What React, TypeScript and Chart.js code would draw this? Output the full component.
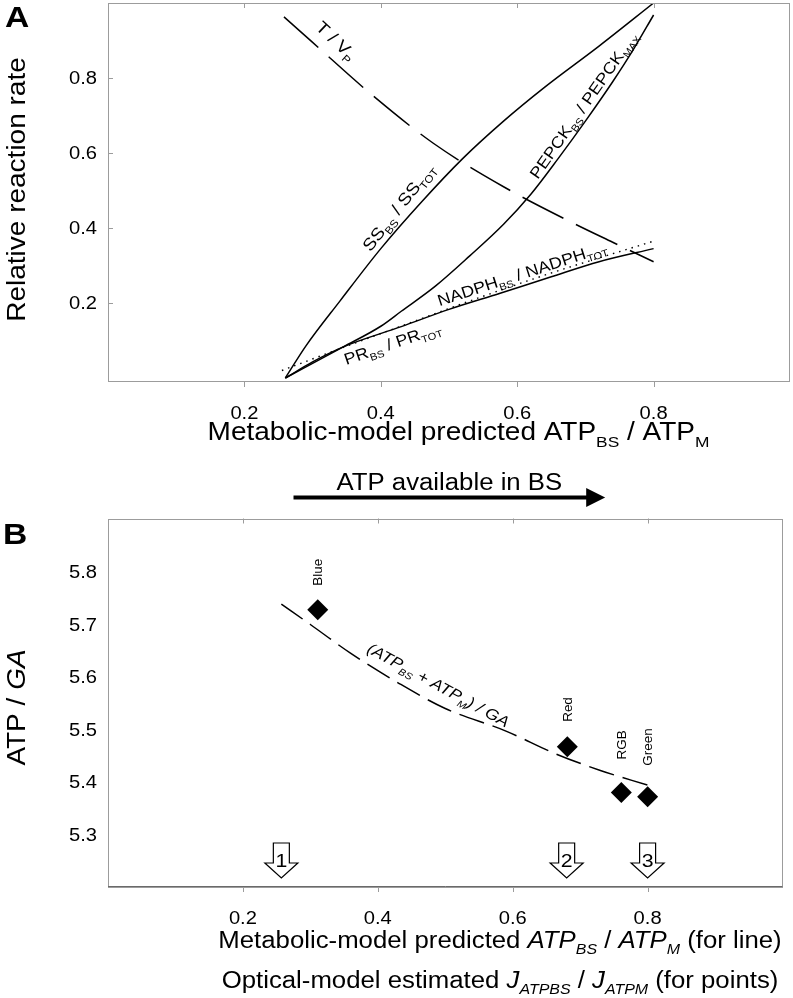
import React, { useEffect, useRef } from 'react';
import { Chart, registerables } from 'chart.js';
Chart.register(...registerables);

// ---------------- data ----------------
const X_TICKS = [0.2, 0.4, 0.6, 0.8];
const A_Y_TICKS = [0.2, 0.4, 0.6, 0.8];
const B_Y_TICKS = [5.3, 5.4, 5.5, 5.6, 5.7, 5.8];

// Panel A curves
const SS_X = [0.26, 0.29, 0.34, 0.40, 0.46, 0.52, 0.58, 0.64, 0.72, 0.80];
const SS_Y = [0.0, 0.085, 0.205, 0.345, 0.47, 0.585, 0.685, 0.775, 0.885, 1.0];

const PEPCK_X = [0.26, 0.345, 0.40, 0.43, 0.48, 0.53, 0.58, 0.62, 0.66, 0.70, 0.74, 0.77, 0.80];
const PEPCK_Y = [0.0, 0.083, 0.138, 0.178, 0.245, 0.325, 0.41, 0.49, 0.585, 0.685, 0.79, 0.875, 0.968];

const PR_X = [0.26, 0.30, 0.345, 0.43, 0.50, 0.575, 0.65, 0.72, 0.80];
const PR_Y = [0.0, 0.043, 0.083, 0.137, 0.183, 0.226, 0.27, 0.31, 0.345];

const NADPH_X = [0.255, 0.35, 0.45, 0.55, 0.65, 0.80];
const NADPH_Y = [0.02, 0.085, 0.152, 0.218, 0.28, 0.365];

const TVP_X = [0.258, 0.30, 0.387, 0.477, 0.58, 0.682, 0.74, 0.80];
const TVP_Y = [0.963, 0.895, 0.755, 0.626, 0.51, 0.413, 0.362, 0.31];

// Panel B
const LINE_B_X = [0.257, 0.30, 0.36, 0.43, 0.50, 0.59, 0.663, 0.73, 0.80];
const LINE_B_Y = [5.739, 5.70, 5.645, 5.589, 5.54, 5.497, 5.454, 5.422, 5.394];

const POINT_NAMES = ['Blue', 'Red', 'RGB', 'Green'];
const POINT_X = [0.311, 0.681, 0.761, 0.80];
const POINT_Y = [5.728, 5.467, 5.38, 5.372];

const ARROW_X = [0.257, 0.68, 0.80];
const ARROW_NUMS = ['1', '2', '3'];

// "ATP available in BS" arrow (x extent, data units)
const ATP_ARROW_X = [0.272, 0.729];

// ---------------- styles ----------------
const FONT = '"Liberation Sans", Arial, Helvetica, sans-serif';
const SX = 1.12;
const SUB = 0.62;
const BOX = '#9c9c9c';
const POINT_LABEL_GAP = [24, 25, 33, 31];

type Seg = { t: string; s?: boolean; i?: boolean };
type RichOpts = { angle?: number; align?: 'left' | 'center' | 'right'; bold?: boolean; vcenter?: boolean };

function rich(ctx: CanvasRenderingContext2D, segs: Seg[], x: number, y: number, size: number, o: RichOpts = {}) {
  ctx.save();
  ctx.translate(x, y);
  if (o.angle) ctx.rotate(o.angle);
  ctx.scale(SX, 1);
  const fonts = segs.map(
    (sg) => `${sg.i ? 'italic ' : ''}${o.bold ? 'bold ' : ''}${sg.s ? size * SUB : size}px ${FONT}`
  );
  const widths = segs.map((sg, k) => {
    ctx.font = fonts[k];
    return ctx.measureText(sg.t).width;
  });
  const total = widths.reduce((a, b) => a + b, 0);
  const align = o.align || 'center';
  let cx = align === 'center' ? -total / 2 : align === 'right' ? -total : 0;
  const by = o.vcenter ? size * 0.36 : 0;
  ctx.textBaseline = 'alphabetic';
  ctx.textAlign = 'left';
  ctx.fillStyle = '#000';
  segs.forEach((sg, k) => {
    ctx.font = fonts[k];
    ctx.fillText(sg.t, cx, by + (sg.s ? size * 0.26 : 0));
    cx += widths[k];
  });
  ctx.restore();
}

const deg = (d: number) => (d * Math.PI) / 180;

const A_LABELS: { segs: Seg[]; x: number; y: number; angle: number; size: number }[] = [
  { segs: [{ t: 'T / V' }, { t: 'P', s: true }], x: 0.335, y: 0.9, angle: 43, size: 17 },
  { segs: [{ t: 'SS' }, { t: 'BS', s: true }, { t: ' / SS' }, { t: 'TOT', s: true }], x: 0.4256, y: 0.456, angle: -52, size: 17 },
  { segs: [{ t: 'PEPCK' }, { t: 'BS', s: true }, { t: ' / PEPCK' }, { t: 'MAX', s: true }], x: 0.697, y: 0.728, angle: -55, size: 16 },
  { segs: [{ t: 'NADPH' }, { t: 'BS', s: true }, { t: ' / NADPH' }, { t: 'TOT', s: true }], x: 0.607, y: 0.279, angle: -18, size: 16 },
  { segs: [{ t: 'PR' }, { t: 'BS', s: true }, { t: ' / PR' }, { t: 'TOT', s: true }], x: 0.417, y: 0.093, angle: -19, size: 16 },
];

const B_LINE_LABEL = {
  segs: [
    { t: '(ATP', i: true }, { t: 'BS', s: true, i: true }, { t: ' + ATP', i: true }, { t: 'M', s: true, i: true }, { t: ') / GA', i: true },
  ] as Seg[],
  x: 0.49, y: 5.585, angle: 28.5, size: 15.5,
};

const pts = (xs: number[], ys: number[]) => xs.map((x, i) => ({ x, y: ys[i] }));

function lineDs(xs: number[], ys: number[], dash: number[] = [], width = 1.5) {
  return {
    data: pts(xs, ys),
    showLine: true,
    borderColor: '#000',
    backgroundColor: '#000',
    borderWidth: width,
    borderDash: dash,
    pointRadius: 0,
    pointHoverRadius: 0,
    fill: false,
    cubicInterpolationMode: 'monotone' as const,
  };
}

function drawBox(ctx: CanvasRenderingContext2D, ca: any) {
  ctx.save();
  ctx.strokeStyle = BOX;
  ctx.lineWidth = 1;
  ctx.strokeRect(Math.round(ca.left) + 0.5, Math.round(ca.top) + 0.5, Math.round(ca.right - ca.left) - 1, Math.round(ca.bottom - ca.top) - 1);
  ctx.restore();
}

function drawXTicks(ctx: CanvasRenderingContext2D, chart: any) {
  const ca = chart.chartArea;
  const xs = chart.scales.x;
  ctx.save();
  ctx.strokeStyle = BOX;
  ctx.lineWidth = 1;
  X_TICKS.forEach((v) => {
    const px = Math.round(xs.getPixelForValue(v)) + 0.5;
    ctx.beginPath();
    ctx.moveTo(px, ca.top);
    ctx.lineTo(px, ca.top + 5);
    ctx.moveTo(px, ca.bottom);
    ctx.lineTo(px, ca.bottom + 5);
    ctx.stroke();
    rich(ctx, [{ t: v.toFixed(1) }], xs.getPixelForValue(v), ca.bottom + 36.5, 18);
  });
  ctx.restore();
}

function drawYTicks(ctx: CanvasRenderingContext2D, chart: any, ticks: number[], marks: boolean) {
  const ca = chart.chartArea;
  const ys = chart.scales.y;
  ctx.save();
  ctx.strokeStyle = BOX;
  ctx.lineWidth = 1;
  ticks.forEach((v) => {
    const py = ys.getPixelForValue(v);
    if (marks) {
      ctx.beginPath();
      ctx.moveTo(ca.left, Math.round(py) + 0.5);
      ctx.lineTo(ca.left + 5, Math.round(py) + 0.5);
      ctx.stroke();
    }
    rich(ctx, [{ t: v.toFixed(1) }], ca.left - 11, py + 6.5, 18, { align: 'right' });
  });
  ctx.restore();
}

const plugA = {
  id: 'decorA',
  afterDraw(chart: any) {
    const ctx: CanvasRenderingContext2D = chart.ctx;
    const ca = chart.chartArea;
    const xs = chart.scales.x;
    const ys = chart.scales.y;
    drawBox(ctx, ca);
    drawXTicks(ctx, chart);
    drawYTicks(ctx, chart, A_Y_TICKS, true);
    // curve labels
    A_LABELS.forEach((l) => {
      rich(ctx, l.segs, xs.getPixelForValue(l.x), ys.getPixelForValue(l.y), l.size, { angle: deg(l.angle), vcenter: true });
    });
    // axis titles
    rich(ctx, [{ t: 'Metabolic-model predicted ATP' }, { t: 'BS', s: true }, { t: ' / ATP' }, { t: 'M', s: true }], ca.left + 350.5, ca.bottom + 58, 25);
    rich(ctx, [{ t: 'Relative reaction rate' }], 25, ca.top + 186.5, 25, { angle: -Math.PI / 2 });
    // panel letter
    rich(ctx, [{ t: 'A' }], 5, 27, 30, { align: 'left', bold: true });
    // ATP available arrow
    const x0 = xs.getPixelForValue(ATP_ARROW_X[0]);
    const x1 = xs.getPixelForValue(ATP_ARROW_X[1]);
    const ay = ca.bottom + 115.5;
    rich(ctx, [{ t: 'ATP available in BS' }], (x0 + x1) / 2, ca.bottom + 108, 23);
    ctx.save();
    ctx.fillStyle = '#000';
    ctx.fillRect(x0, ay - 2, x1 - 18 - x0, 4);
    ctx.beginPath();
    ctx.moveTo(x1 - 19, ay - 9.5);
    ctx.lineTo(x1, ay);
    ctx.lineTo(x1 - 19, ay + 9.5);
    ctx.closePath();
    ctx.fill();
    ctx.restore();
  },
};

const plugB = {
  id: 'decorB',
  afterDraw(chart: any) {
    const ctx: CanvasRenderingContext2D = chart.ctx;
    const ca = chart.chartArea;
    const xs = chart.scales.x;
    const ys = chart.scales.y;
    drawBox(ctx, ca);
    // darker bottom axis
    ctx.save();
    ctx.strokeStyle = '#6a6a6a';
    ctx.beginPath();
    ctx.moveTo(ca.left, Math.round(ca.bottom) - 0.5);
    ctx.lineTo(ca.right, Math.round(ca.bottom) - 0.5);
    ctx.stroke();
    ctx.restore();
    drawXTicks(ctx, chart);
    drawYTicks(ctx, chart, B_Y_TICKS, false);
    // line label
    const L = B_LINE_LABEL;
    rich(ctx, L.segs, xs.getPixelForValue(L.x), ys.getPixelForValue(L.y), L.size, { angle: deg(L.angle), vcenter: true });
    // point labels
    POINT_NAMES.forEach((n, i) => {
      const px = xs.getPixelForValue(POINT_X[i]);
      const py = ys.getPixelForValue(POINT_Y[i]);
      rich(ctx, [{ t: n }], px + 0.36 * 12, py - POINT_LABEL_GAP[i], 12, { angle: -Math.PI / 2, align: 'left' });
    });
    // hollow arrows
    ARROW_X.forEach((v, i) => {
      const px = xs.getPixelForValue(v);
      const T = ca.bottom - 44;
      ctx.save();
      ctx.beginPath();
      ctx.moveTo(px - 8, T);
      ctx.lineTo(px + 8, T);
      ctx.lineTo(px + 8, T + 20);
      ctx.lineTo(px + 16.5, T + 20);
      ctx.lineTo(px, T + 35);
      ctx.lineTo(px - 16.5, T + 20);
      ctx.lineTo(px - 8, T + 20);
      ctx.closePath();
      ctx.fillStyle = '#fff';
      ctx.fill();
      ctx.strokeStyle = '#000';
      ctx.lineWidth = 1.2;
      ctx.stroke();
      ctx.restore();
      rich(ctx, [{ t: ARROW_NUMS[i] }], px, T + 24, 19);
    });
    // axis titles
    rich(ctx, [
      { t: 'Metabolic-model predicted ' }, { t: 'ATP', i: true }, { t: 'BS', s: true, i: true }, { t: ' / ' },
      { t: 'ATP', i: true }, { t: 'M', s: true, i: true }, { t: ' (for line)' },
    ], ca.left + 392, ca.bottom + 61, 23);
    rich(ctx, [
      { t: 'Optical-model estimated ' }, { t: 'J', i: true }, { t: 'ATPBS', s: true, i: true }, { t: ' / ' },
      { t: 'J', i: true }, { t: 'ATPM', s: true, i: true }, { t: ' (for points)' },
    ], ca.left + 392, ca.bottom + 101, 23);
    rich(ctx, [{ t: 'ATP / ' }, { t: 'GA', i: true }], 25, ca.top + 189, 25, { angle: -Math.PI / 2 });
    rich(ctx, [{ t: 'B' }], 3, ca.top + 25, 30, { align: 'left', bold: true });
  },
};

const W = 793;
const HA = 508;
const HB = 490;

export default function App() {
  const refA = useRef<HTMLCanvasElement>(null);
  const refB = useRef<HTMLCanvasElement>(null);

  useEffect(() => {
    const base: any = {
      responsive: false,
      animation: false,
      devicePixelRatio: 1,
      plugins: { legend: { display: false }, tooltip: { enabled: false } },
      events: [],
    };
    const chartA = new Chart(refA.current as HTMLCanvasElement, {
      type: 'scatter',
      data: {
        datasets: [
          lineDs(SS_X, SS_Y),
          lineDs(PEPCK_X, PEPCK_Y),
          lineDs(PR_X, PR_Y),
          lineDs(NADPH_X, NADPH_Y, [1.5, 5], 1.4),
          lineDs(TVP_X, TVP_Y, [46, 14]),
        ] as any,
      },
      options: {
        ...base,
        layout: { padding: { left: 108, top: 3, right: 3, bottom: 126 } },
        scales: {
          x: { type: 'linear', min: 0, max: 1, display: false },
          y: { type: 'linear', min: -0.01067, max: 1.0, display: false },
        },
      },
      plugins: [plugA],
    });
    const chartB = new Chart(refB.current as HTMLCanvasElement, {
      type: 'scatter',
      data: {
        datasets: [
          lineDs(LINE_B_X, LINE_B_Y, [26, 9]),
          {
            data: pts(POINT_X, POINT_Y),
            pointStyle: 'rectRot',
            pointRadius: 10.5,
            pointHoverRadius: 10.5,
            backgroundColor: '#000',
            borderColor: '#000',
            borderWidth: 0,
            showLine: false,
          },
        ] as any,
      },
      options: {
        ...base,
        layout: { padding: { left: 108, top: 0, right: 3, bottom: 111 } },
        scales: {
          x: { type: 'linear', min: 0, max: 1, display: false },
          y: { type: 'linear', min: 5.2, max: 5.9019, display: false },
        },
      },
      plugins: [plugB],
    });
    return () => {
      chartA.destroy();
      chartB.destroy();
    };
  }, []);

  return (
    <div style={{ position: 'absolute', left: 0, top: 0, width: W, height: 998, background: '#fff' }}>
      <canvas ref={refA} width={W} height={HA} style={{ position: 'absolute', left: 0, top: 0, width: W, height: HA }} />
      <canvas ref={refB} width={W} height={HB} style={{ position: 'absolute', left: 0, top: HA, width: W, height: HB }} />
    </div>
  );
}
